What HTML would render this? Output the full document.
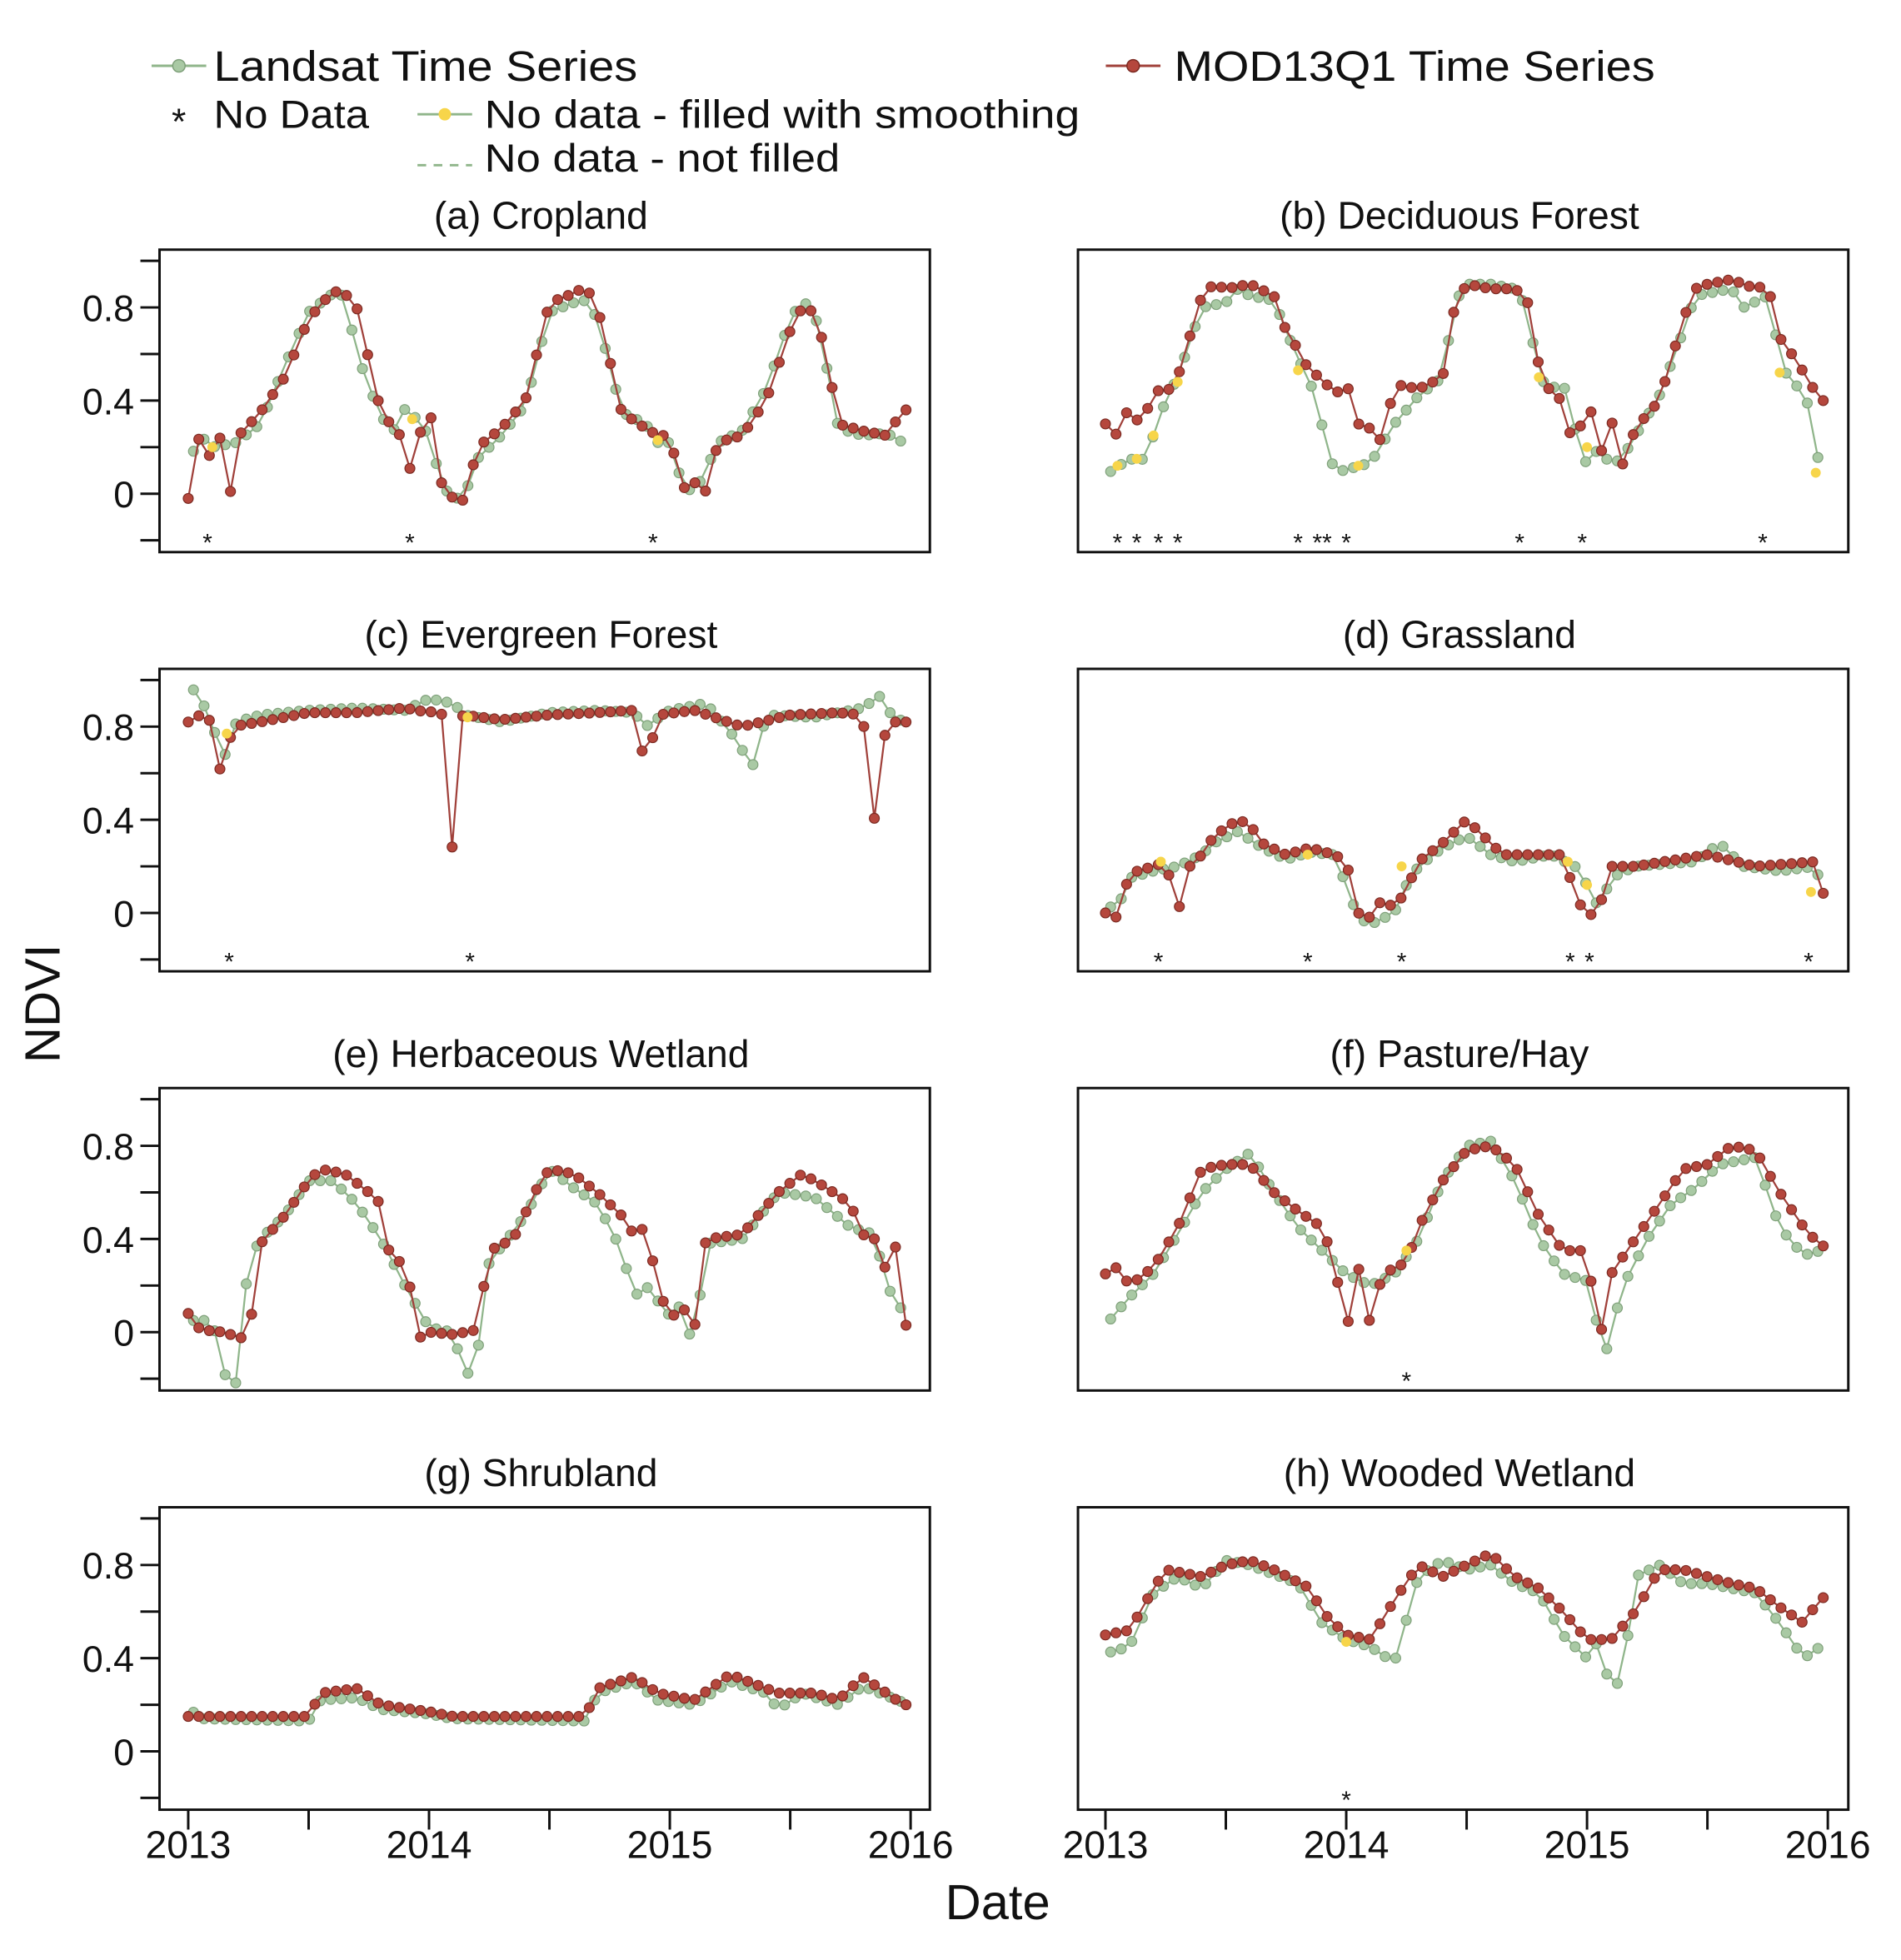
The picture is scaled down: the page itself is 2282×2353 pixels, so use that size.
<!DOCTYPE html>
<html><head><meta charset="utf-8"><style>
html,body{margin:0;padding:0;background:#fff}
svg{display:block}
text{font-family:"Liberation Sans","DejaVu Sans",sans-serif;fill:#111}
</style></head><body>
<svg id="s" width="2282" height="2353" viewBox="0 0 1530 1578" preserveAspectRatio="none" xmlns="http://www.w3.org/2000/svg">
<rect width="1530" height="1578" fill="#fff"/>
<line x1="122" y1="53" x2="166" y2="53" stroke="#8fb58a" stroke-width="2"/><circle cx="144" cy="53" r="5" fill="#a9c9a4" stroke="#7fa07a"/>
<text x="172" y="65" font-size="34" textLength="341" lengthAdjust="spacingAndGlyphs">Landsat Time Series</text>
<line x1="890" y1="53" x2="934" y2="53" stroke="#a0403a" stroke-width="2"/><circle cx="912" cy="53" r="5" fill="#b5473d" stroke="#7a2a22"/>
<text x="945" y="65" font-size="34" textLength="387" lengthAdjust="spacingAndGlyphs">MOD13Q1 Time Series</text>
<text x="144" y="108" font-size="30" text-anchor="middle">*</text>
<text x="172" y="103" font-size="32" textLength="125" lengthAdjust="spacingAndGlyphs">No Data</text>
<line x1="336" y1="92" x2="380" y2="92" stroke="#8fb58a" stroke-width="2"/><circle cx="358" cy="92" r="5" fill="#f7d54a"/>
<text x="390" y="103" font-size="32" textLength="479" lengthAdjust="spacingAndGlyphs">No data - filled with smoothing</text>
<line x1="336" y1="133" x2="380" y2="133" stroke="#8fb58a" stroke-width="2" stroke-dasharray="7,6"/>
<text x="390" y="138" font-size="32" textLength="286" lengthAdjust="spacingAndGlyphs">No data - not filled</text>
<text x="48" y="808" font-size="40" text-anchor="middle" transform="rotate(-90 48 808)">NDVI</text>
<text x="803" y="1545" font-size="40" text-anchor="middle">Date</text>
<g id="g"></g>
</svg>
<script>
var P=[
{t:"(a) Cropland",L:1,r:0,
m:[0,-0.02,.05,.27,.1,.13,.13,.25,.17,-.04,.2,.24,.3,.35,.4,.5,.5,.75,.6,.87,.65,.86,.7,.8,.8,.35,.88,.25,.9,.28,.93,.03,.96,.25,1,.38,1.05,.05,1.1,-.02,1.15,-.03,1.2,.2,1.3,.28,1.4,.4,1.5,.82,1.6,.86,1.65,.89,1.7,.8,1.8,.35,1.9,.28,1.95,.25,2,.25,2.05,.02,2.1,.05,2.15,.01,2.2,.22,2.3,.25,2.4,.4,2.5,.7,2.55,.8,2.6,.78,2.65,.6,2.7,.3,2.8,.27,2.9,.25,2.97,.36],
l:[0,.13,.05,.25,.1,.2,.2,.22,.3,.3,.4,.55,.5,.78,.6,.86,.65,.85,.7,.6,.8,.33,.88,.25,.9,.37,.95,.32,1,.25,1.05,.05,1.1,-.03,1.15,0,1.2,.15,1.3,.25,1.4,.38,1.5,.78,1.6,.82,1.65,.83,1.7,.75,1.8,.35,1.9,.3,1.95,.22,2,.22,2.05,.05,2.1,0,2.15,.1,2.2,.22,2.3,.27,2.4,.45,2.5,.75,2.55,.83,2.6,.78,2.65,.55,2.7,.28,2.8,.25,2.9,.26,2.97,.22],
s:[.08,.92,1.93],y:[[.1,.2],[.93,.32],[1.95,.23]]},
{t:"(b) Deciduous Forest",L:0,r:0,
m:[0,.3,.05,.25,.1,.38,.15,.28,.2,.45,.25,.43,.3,.5,.4,.85,.45,.9,.5,.88,.6,.9,.7,.85,.75,.7,.8,.62,.85,.52,.9,.5,.95,.42,1,.48,1.05,.3,1.1,.28,1.15,.22,1.2,.47,1.3,.45,1.4,.5,1.45,.8,1.5,.9,1.6,.88,1.7,.88,1.75,.84,1.8,.55,1.85,.43,1.9,.4,1.95,.16,2,.45,2.05,.15,2.1,.32,2.15,.12,2.2,.28,2.3,.4,2.4,.75,2.45,.88,2.5,.9,2.6,.92,2.7,.88,2.75,.9,2.8,.67,2.85,.6,2.9,.52,2.97,.4],
l:[0,.08,.1,.15,.15,.14,.2,.25,.25,.4,.3,.5,.4,.8,.5,.82,.55,.88,.6,.85,.7,.83,.75,.7,.8,.58,.85,.48,.95,.1,1,.1,1.05,.12,1.1,.13,1.2,.3,1.3,.42,1.4,.5,1.45,.82,1.5,.9,1.6,.9,1.7,.88,1.75,.8,1.8,.5,1.85,.45,1.9,.48,1.95,.28,2,.12,2.05,.2,2.1,.12,2.15,.16,2.3,.42,2.4,.7,2.45,.85,2.6,.88,2.65,.8,2.75,.85,2.8,.6,2.85,.45,2.9,.48,2.93,.3,2.97,.1],
s:[.05,.13,.22,.3,.8,.88,.92,1,1.72,1.98,2.73],y:[[.05,.12],[.13,.15],[.2,.25],[.3,.48],[.8,.53],[1.05,.12],[1.8,.5],[2.0,.2],[2.8,.52],[2.95,.09]]},
{t:"(c) Evergreen Forest",L:1,r:1,
m:[0,.82,.05,.85,.1,.82,.15,.5,.18,.8,.3,.82,.5,.86,.7,.86,.9,.88,1,.86,1.05,.88,1.1,.23,1.14,.85,1.3,.83,1.5,.85,1.7,.86,1.85,.87,1.9,.62,1.95,.85,2.1,.87,2.3,.8,2.5,.85,2.7,.86,2.8,.85,2.85,.4,2.9,.82],
l:[0,.98,.05,.93,.1,.8,.15,.67,.2,.82,.3,.85,.5,.87,.7,.88,.9,.87,1,.92,1.1,.9,1.15,.85,1.3,.82,1.5,.86,1.7,.87,1.85,.86,1.9,.8,2.0,.87,2.15,.9,2.25,.78,2.3,.7,2.35,.63,2.4,.85,2.6,.84,2.8,.88,2.9,.95,2.93,.77,2.97,.85],
s:[.17,1.17],y:[[.16,.77],[1.16,.84]]},
{t:"(d) Grassland",L:0,r:1,
m:[0,0,.05,-.02,.1,.17,.2,.2,.25,.22,.3,0,.35,.2,.4,.25,.45,.33,.55,.4,.6,.38,.65,.3,.75,.25,.85,.28,.95,.25,1,.22,1.05,0,1.1,-.02,1.15,.06,1.2,.02,1.25,.1,1.3,.22,1.4,.3,1.5,.4,1.55,.35,1.65,.25,1.9,.25,1.95,.08,2,-.02,2.05,.02,2.1,.2,2.2,.2,2.5,.25,2.7,.2,2.95,.22,3,0],
l:[0,.03,.05,.02,.1,.15,.2,.18,.3,.2,.4,.25,.45,.3,.55,.35,.65,.28,.75,.23,.85,.26,.95,.25,1,.12,1.05,-.02,1.1,-.05,1.2,.0,1.25,.12,1.3,.2,1.4,.28,1.5,.33,1.6,.25,1.7,.22,1.85,.25,1.95,.2,2,.12,2.05,.02,2.1,.15,2.2,.2,2.45,.22,2.55,.3,2.65,.2,2.8,.18,2.95,.2,3,0],
s:[.22,.84,1.23,1.93,2.01,2.92],y:[[.23,.22],[.84,.25],[1.23,.2],[1.92,.22],[2.0,.12],[2.93,.09]]},
{t:"(e) Herbaceous Wetland",L:1,r:2,
m:[0,.08,.05,.01,.15,0,.2,-.02,.25,-.03,.3,.38,.4,.5,.5,.65,.55,.7,.65,.68,.75,.6,.8,.55,.85,.25,.9,.35,.95,-.03,1,0,1.1,-.01,1.2,.01,1.25,.35,1.35,.4,1.45,.62,1.5,.7,1.6,.68,1.7,.6,1.8,.5,1.85,.42,1.9,.45,1.95,.2,2,.05,2.05,.12,2.1,0,2.15,.4,2.3,.42,2.45,.6,2.55,.68,2.65,.62,2.75,.55,2.8,.42,2.85,.4,2.9,.26,2.93,.42,2.98,.03],
l:[0,.05,.1,.05,.15,-.18,.2,-.22,.25,.3,.3,.4,.4,.5,.5,.65,.6,.65,.7,.55,.8,.4,.85,.3,.9,.2,1,.02,1.1,0,1.15,-.2,1.2,-.1,1.25,.3,1.4,.5,1.5,.7,1.6,.62,1.7,.55,1.8,.35,1.85,.15,1.9,.2,2,.07,2.05,.12,2.1,-.08,2.15,.38,2.3,.4,2.45,.6,2.6,.58,2.75,.45,2.85,.42,2.9,.2,2.98,.07],
s:[],y:[]},
{t:"(f) Pasture/Hay",L:0,r:2,
m:[0,.25,.05,.28,.1,.2,.2,.28,.3,.45,.4,.7,.5,.72,.6,.72,.7,.6,.8,.52,.9,.45,.95,.3,1,0,1.05,.28,1.1,.03,1.15,.25,1.25,.3,1.3,.45,1.4,.65,1.5,.78,1.6,.8,1.7,.72,1.8,.5,1.9,.35,2,.35,2.05,-.05,2.1,.25,2.2,.4,2.3,.55,2.4,.7,2.5,.72,2.6,.8,2.7,.78,2.8,.6,2.9,.45,2.97,.37],
l:[0,.03,.1,.15,.2,.25,.3,.42,.4,.6,.5,.7,.6,.77,.7,.6,.8,.45,.9,.35,1,.25,1.1,.2,1.2,.25,1.3,.4,1.4,.65,1.5,.8,1.6,.82,1.7,.65,1.8,.4,1.9,.25,2,.22,2.05,0,2.08,-.08,2.15,.2,2.25,.4,2.35,.55,2.45,.62,2.55,.72,2.7,.75,2.8,.45,2.9,.33,2.97,.35],
s:[1.25],y:[[1.25,.35]]},
{t:"(g) Shrubland",L:1,r:3,
m:[0,.15,.5,.15,.55,.25,.7,.27,.8,.2,1,.17,1.1,.15,1.65,.15,1.7,.27,1.85,.32,1.95,.25,2.1,.22,2.25,.33,2.45,.25,2.6,.25,2.7,.22,2.8,.32,2.97,.2],
l:[0,.19,.05,.14,.5,.13,.55,.22,.7,.23,.8,.18,1,.16,1.1,.14,1.65,.13,1.7,.25,1.85,.3,1.95,.22,2.1,.2,2.25,.3,2.4,.25,2.45,.18,2.55,.25,2.7,.2,2.8,.28,2.97,.21],
s:[],y:[]},
{t:"(h) Wooded Wetland",L:0,r:3,
m:[0,.5,.1,.52,.2,.7,.25,.78,.4,.75,.5,.8,.6,.82,.7,.78,.85,.7,.9,.6,1,.5,1.1,.48,1.2,.65,1.3,.8,1.4,.75,1.5,.8,1.6,.85,1.7,.75,1.8,.7,1.9,.6,2,.48,2.1,.48,2.2,.6,2.3,.78,2.4,.78,2.5,.75,2.6,.72,2.7,.7,2.8,.62,2.9,.55,2.97,.66],
l:[0,.42,.1,.45,.2,.68,.3,.75,.4,.7,.5,.82,.6,.8,.7,.76,.8,.72,.9,.55,1,.48,1.1,.45,1.2,.38,1.3,.75,1.4,.82,1.5,.78,1.6,.8,1.7,.72,1.8,.68,1.9,.5,2,.4,2.05,.48,2.1,.25,2.15,.33,2.2,.75,2.3,.8,2.4,.72,2.5,.72,2.6,.7,2.7,.68,2.8,.55,2.9,.4,2.97,.45],
s:[1.0],y:[[1.0,.47]]}
];
function interp(k,t){var n=k.length/2;if(t<=k[0])return k[1];for(var i=0;i<n-1;i++){var a=k[2*i],b=k[2*i+2];if(t>=a&&t<=b){return k[2*i+1]+(k[2*i+3]-k[2*i+1])*(t-a)/(b-a);}}return k[2*n-1];}
var h='';
P.forEach(function(p){
 var bx=p.L?128.4:867.6,bw=620,x0=p.L?151.5:889.7,sx=193.8,top=201+p.r*337.5,bh=243.5,y0=top+196.5,sy=187.5;
 function X(t){return x0+t*sx}function Y(v){return y0-v*sy}
 h+='<text x="'+(bx+bw/2-3)+'" y="'+(top-17)+'" font-size="31" text-anchor="middle">'+p.t+'</text>';
 h+='<rect x="'+bx+'" y="'+top+'" width="'+bw+'" height="'+bh+'" fill="none" stroke="#111" stroke-width="2"/>';
 if(p.L){for(var k=-1;k<=5;k++){var v=k*0.2;var yy=Y(v);var maj=(k%2==0);h+='<line x1="'+(113)+'" x2="128.4" y1="'+yy+'" y2="'+yy+'" stroke="#111" stroke-width="2"/>';if(maj)h+='<text x="108" y="'+(yy+11)+'" font-size="30" text-anchor="end">'+(k==0?'0':v.toFixed(1))+'</text>';}}
 if(p.r==3){for(var j=0;j<=6;j++){var xx=X(j/2);h+='<line x1="'+xx+'" x2="'+xx+'" y1="'+(top+bh)+'" y2="'+(top+bh+16)+'" stroke="#111" stroke-width="2"/>';if(j%2==0)h+='<text x="'+xx+'" y="'+(top+bh+39)+'" font-size="31" text-anchor="middle">'+(2013+j/2)+'</text>';}}
 var lp=[],mp=[];
 for(var i=0;i<68;i++){var t=(i*16+8)/365;lp.push([X(t),Y(interp(p.l,t))]);}
 for(var i=0;i<69;i++){var t=i*16/365;mp.push([X(t),Y(interp(p.m,t))]);}
 function pl(a,c){return '<polyline fill="none" stroke="'+c+'" stroke-width="1.5" points="'+a.map(function(q){return q[0].toFixed(1)+','+q[1].toFixed(1)}).join(' ')+'"/>';}
 h+=pl(lp,'#8fb58a');
 lp.forEach(function(q){h+='<circle cx="'+q[0].toFixed(1)+'" cy="'+q[1].toFixed(1)+'" r="4" fill="#a9c9a4" stroke="#7fa07a" stroke-width="0.8"/>';});
 h+=pl(mp,'#a0403a');
 mp.forEach(function(q){h+='<circle cx="'+q[0].toFixed(1)+'" cy="'+q[1].toFixed(1)+'" r="4" fill="#b5473d" stroke="#7a2a22" stroke-width="0.8"/>';});
 p.y.forEach(function(q){h+='<circle cx="'+X(q[0])+'" cy="'+Y(q[1])+'" r="4" fill="#f7d54a"/>';});
 p.s.forEach(function(t){h+='<text x="'+X(t)+'" y="'+(top+bh-1)+'" font-size="20" text-anchor="middle">*</text>';});
});
document.getElementById('g').innerHTML=h;
</script>
</body></html>
